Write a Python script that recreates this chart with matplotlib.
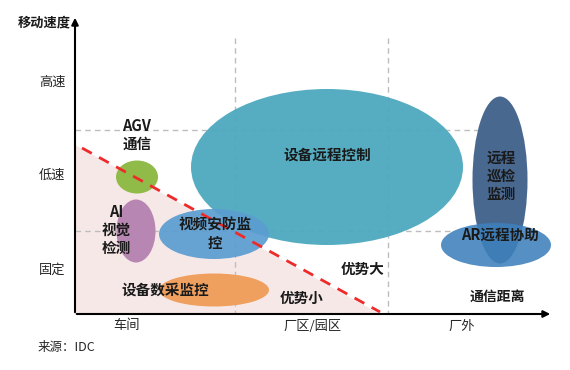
import matplotlib
matplotlib.use("Agg")
import matplotlib.pyplot as plt
from matplotlib.patches import Ellipse, Polygon

plt.rcParams['font.family'] = ['Noto Sans CJK SC', 'DejaVu Sans']

# bubbles (pixel-like units, y grows downward)
bubble_names = ['设备远程控制', 'AGV\n通信', 'AI\n视觉\n检测', '视频安防监\n控', '设备数采监控',
                '远程\n巡检\n监测', 'AR远程协助']
bubble_x = [327, 137, 136, 214, 214, 500, 496]
bubble_y = [167, 177, 231, 234, 290, 180, 245]
bubble_w = [272, 42, 39, 110, 110, 55, 110]
bubble_h = [156, 33, 63, 50, 33, 167, 44]
bubble_colors = ['#4DA9BF', '#91BB48', '#B786B3', '#5A9DD1', '#F0A05E', '#486890', '#3D80BB']
bubble_alpha = [0.95, 1.0, 1.0, 0.92, 1.0, 1.0, 0.88]
label_x = [327, 137, 116, 215, 165, 501, 500]
label_y = [155, 135, 230, 234, 290, 176, 235]

y_ticks = ['高速', '低速', '固定']
y_tick_pos = [82, 175, 270]
x_ticks = ['车间', '厂区/园区', '厂外']
x_tick_pos = [127, 313, 462]

fig = plt.figure(figsize=(5.7, 3.7), dpi=100)
ax = fig.add_axes([0, 0, 1, 1])
ax.set_xlim(0, 570)
ax.set_ylim(370, 0)
ax.axis('off')

x0, y0 = 75, 314  # origin
# pink "small advantage" area
ax.add_patch(Polygon([(x0, 145), (380, y0), (x0, y0)], closed=True,
                     facecolor='#F7E8E8', edgecolor='none', zorder=1))

# dashed guides
grid_kw = dict(color='#BDBDBD', lw=1, ls=(0, (4, 3)), zorder=2)
ax.plot([235, 235], [38, y0], **grid_kw)
ax.plot([388, 388], [38, y0], **grid_kw)
ax.plot([x0, 507], [130, 130], **grid_kw)
ax.plot([x0, 450], [231, 231], **grid_kw)

for i in range(len(bubble_names)):
    ax.add_patch(Ellipse((bubble_x[i], bubble_y[i]), bubble_w[i], bubble_h[i],
                         facecolor=bubble_colors[i], edgecolor='none',
                         alpha=bubble_alpha[i], zorder=3 + i * 0.1))

# red dashed boundary
ax.plot([82, 380], [148, 312], color='#EE2B2B', lw=2, ls=(0, (4, 3)), zorder=5)

# axes with arrows
ax.annotate('', xy=(x0, 15), xytext=(x0, y0 + 1),
            arrowprops=dict(arrowstyle='-|>', color='black', lw=1.5, mutation_scale=10), zorder=6)
ax.annotate('', xy=(553, y0), xytext=(x0 - 1, y0),
            arrowprops=dict(arrowstyle='-|>', color='black', lw=1.5, mutation_scale=10), zorder=6)

for i, name in enumerate(bubble_names):
    ax.text(label_x[i], label_y[i], name, ha='center', va='center', fontsize=10.5,
            fontweight='bold', color='#1A1A1A', linespacing=1.15, zorder=7)

ax.text(363, 269, '优势大', ha='center', va='center', fontsize=10.5, fontweight='bold', color='#1A1A1A', zorder=7)
ax.text(302, 298, '优势小', ha='center', va='center', fontsize=10.5, fontweight='bold', color='#1A1A1A', zorder=7)
ax.text(497, 297, '通信距离', ha='center', va='center', fontsize=10, fontweight='bold', color='#1A1A1A', zorder=7)
ax.text(44, 22, '移动速度', ha='center', va='center', fontsize=9.5, fontweight='bold', color='#1A1A1A')

for lab, yp in zip(y_ticks, y_tick_pos):
    ax.text(52, yp, lab, ha='center', va='center', fontsize=9.5, color='#262626')
for lab, xp in zip(x_ticks, x_tick_pos):
    ax.text(xp, 326, lab, ha='center', va='center', fontsize=9.5, color='#262626')

ax.text(38, 348, '来源：IDC', ha='left', va='center', fontsize=9, color='#262626')

fig.savefig('out.png', dpi=100)
